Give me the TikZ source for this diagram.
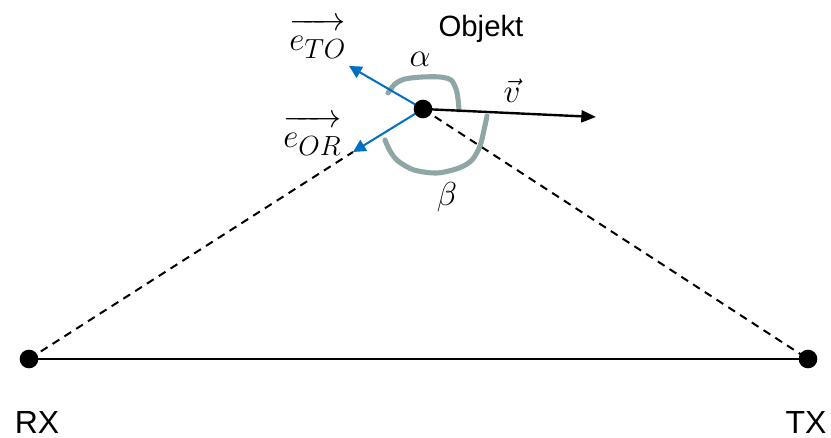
\documentclass[tikz,border=0pt]{standalone}
\usepackage{fontspec}
\setmainfont{Liberation Sans}
\usetikzlibrary{arrows.meta,backgrounds}
\definecolor{arcgray}{RGB}{143,166,166}
\definecolor{vecblue}{RGB}{0,112,192}
\newcommand{\vecstrut}{\rule{0pt}{0.56em}}
\tikzset{
  dotnode/.style={circle,fill=black,inner sep=0pt,minimum size=14pt},
  lbl/.style={font=\fontsize{24}{28}\selectfont,inner sep=0pt},
  mlbl/.style={font=\fontsize{29}{34}\selectfont,inner sep=0pt},
  dashline/.style={line width=1.5pt,dash pattern=on 6pt off 4.5pt},
  baseline/.style={line width=2.2pt},
  bluevec/.style={vecblue,line width=1.5pt,-{Triangle[length=9.5pt,width=9.5pt]}},
  blackvec/.style={black,line width=1.8pt,-{Triangle[length=11pt,width=9pt]}},
  anglearc/.style={arcgray,line width=3.8pt,line cap=round,line join=round}
}
\begin{document}
\begin{tikzpicture}[x=0.75pt,y=-0.75pt]
\useasboundingbox (0,0) rectangle (831,438);
% points
\node[dotnode] (obj) at (423,109) {};
\node[dotnode] (rx) at (29,359) {};
\node[dotnode] (tx) at (808,359) {};
\coordinate (tTO) at (349,66);
\coordinate (tOR) at (353,152);
\coordinate (vend) at (596,117);
\begin{scope}[on background layer]
\draw[dashline] (rx.center) -- (tOR);
\draw[dashline] (obj.center) -- (tx.center);
\draw[baseline] (rx.center) -- (tx.center);
\draw[anglearc] plot[smooth] coordinates {(388,93) (395,84) (405,79) (422,77) (440,77) (451,80) (456,89) (458,99) (459,110)};
\draw[anglearc] plot[smooth] coordinates {(385,140) (390,151) (398,161) (414,170) (437,173) (459,168) (472,160) (480,146) (484,130) (487,116)};
\draw[bluevec] (obj.center) -- (tTO);
\draw[bluevec] (obj.center) -- (tOR);
\draw[blackvec] (obj.center) -- (vend);
\end{scope}
% labels
\node[lbl,anchor=base,font=\fontsize{22}{26}\selectfont] (objl) at (481,37) {Objekt};
\node[lbl,anchor=base] (rxl) at (37,433) {RX};
\node[lbl,anchor=base] (txl) at (806,433) {TX};
\node[mlbl,anchor=base west] (eto) at (289,51) {$\overrightarrow{\vecstrut e_{TO}}$};
\node[mlbl,anchor=base west] (eor) at (283,148) {$\overrightarrow{\vecstrut e_{OR}}$};
\node[mlbl] (al) at (420,59) {$\alpha$};
\node[mlbl] (vl) at (512,91) {$\vec{v}$};
\node[mlbl] (be) at (447,197) {$\beta$};
\end{tikzpicture}
\end{document}
